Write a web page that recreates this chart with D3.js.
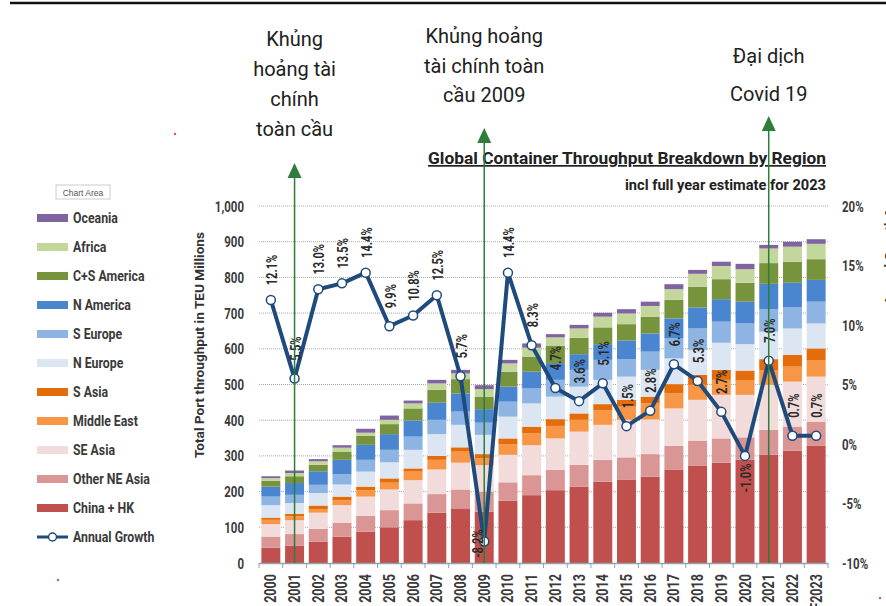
<!DOCTYPE html>
<html>
<head>
<meta charset="utf-8">
<script src="https://cdn.jsdelivr.net/npm/d3@7"></script>
<style>
body{margin:0;background:#fff;}
svg{display:block;}
.num{font-family:Roboto,'Liberation Sans',sans-serif;font-weight:bold;fill:#3a3a3a;}
.note{font-family:Roboto,'Noto Sans',sans-serif;fill:#212121;}
</style>
</head>
<body>
<div id="canvas"></div>
<script>
// data
let years = ['2000','2001','2002','2003','2004','2005','2006','2007','2008','2009','2010','2011',
	'2012','2013','2014','2015','2016','2017','2018','2019','2020','2021','2022','F2023'];

let regions = ['China + HK','Other NE Asia','SE Asia','Middle East','S Asia','N Europe',
	'S Europe','N America','C+S America','Africa','Oceania'];

let chinaHK     = [43,48,60,74,88,100,120,141,153,144,174,190,204,214,228,234,242,262,272,281,289,303,315,328],
otherNEAsia     = [31,33,36,39,44,48,47,52,53,56,52,56,57,61,61,62,63,66,71,68,63,70,67,68],
seAsia          = [35,39,45,49,54,58,65,69,75,74,77,84,88,93,98,105,97,105,114,122,119,126,126,126],
middleEast      = [12,11,10,14,18,19,24,27,31,19,30,33,35,33,40,37,45,42,42,42,40,40,42,45],
sAsia           = [6,7,10,10,10,12,9,11,12,12,16,19,19,18,18,19,19,26,28,28,28,32,33,34],
nEurope         = [35,30,35,34,42,45,52,61,63,54,61,65,63,75,68,65,75,72,70,76,74,77,74,70],
sEurope         = [24,23,23,29,33,35,37,40,37,34,42,42,47,47,56,49,51,56,60,59,58,63,59,61],
nAmerica        = [28,33,38,40,42,44,45,48,51,38,42,47,47,44,44,52,51,56,59,63,61,71,69,61],
csAmerica       = [16,19,18,23,25,28,34,36,40,35,42,42,49,46,47,46,47,52,58,56,53,58,59,58],
africa          = [8,9,10,11,9,12,14,18,16,21,23,25,23,26,30,30,30,30,36,37,38,41,42,43],
oceania         = [5,7,6,7,11,12,8,10,10,11,10,12,9,10,11,12,12,14,11,12,15,10,14,13];

let growth = [12.1,5.5,13.0,13.5,14.4,9.9,10.8,12.5,5.7,-8.2,14.4,8.3,4.7,3.6,5.1,1.5,2.8,6.7,5.3,2.7,-1.0,7.0,0.7,0.7];

let leftTicks = [0,100,200,300,400,500,600,700,800,900,1000],
rightTicks = [-10,-5,0,5,10,15,20];

let colors = ['#c0504d','#d99694','#f2dcdb','#f79646','#e46c0a','#dce6f2',
	'#8db4e2','#4a86d0','#77933c','#c3d69b','#8064a2'];

let notes = [
	{year:'2001', lines:['Khủng','hoảng tài','chính','toàn cầu']},
	{year:'2009', lines:['Khủng hoảng','tài chính toàn','cầu 2009']},
	{year:'2021', lines:['Đại dịch','Covid 19']}
];

let series = [chinaHK, otherNEAsia, seAsia, middleEast, sAsia, nEurope, sEurope, nAmerica, csAmerica, africa, oceania];

let W = 886, H = 606,
SX = 0.74, //squeeze for the condensed look of the numbers
canvas = d3.select('#canvas').append('svg').attr('width', W).attr('height', H);

canvas.append('rect').attr('width', W).attr('height', H).style('fill', '#fff');

let x = d3.scaleBand().domain(years).range([259, 828]).paddingInner(0.2).paddingOuter(0.1),
y = d3.scaleLinear().domain([0, 1000]).range([563, 206]),
y2 = d3.scaleLinear().domain([-10, 20]).range([563, 206]);

//top rule
canvas.append('line').attr('x1', 10).attr('x2', W).attr('y1', 3).attr('y2', 3)
.style('stroke', '#111').style('stroke-width', 2.5);

//gridlines
canvas.append('g').selectAll('line').data(leftTicks.slice(1)).enter().append('line')
.attr('x1', 259).attr('x2', 828)
.attr('y1', d=>y(d)).attr('y2', d=>y(d))
.style('stroke', '#a8a8a8').style('stroke-width', 1).style('stroke-dasharray', '1,1');

//stacked bars
let table = years.map((yr, i)=>{
	let row = {year:yr};
	regions.forEach((r, j)=>{ row[r] = series[j][i]; });
	return row;
});
let stacked = d3.stack().keys(regions)(table);

canvas.append('g').selectAll('g').data(stacked).enter().append('g')
.style('fill', (d, i)=>colors[i])
.selectAll('rect').data(d=>d).enter().append('rect')
.attr('x', d=>x(d.data.year))
.attr('y', d=>y(d[1]))
.attr('width', x.bandwidth())
.attr('height', d=>y(d[0]) - y(d[1]));

//x axis
canvas.append('line').attr('x1', 259).attr('x2', 828).attr('y1', 563.5).attr('y2', 563.5)
.style('stroke', '#8fa3a8').style('stroke-width', 1.5);
canvas.append('g').selectAll('line').data(years.concat(['end'])).enter().append('line')
.attr('x1', (d, i)=>259 + x.step()*i)
.attr('x2', (d, i)=>259 + x.step()*i)
.attr('y1', 563).attr('y2', 568)
.style('stroke', '#8fa3a8').style('stroke-width', 1);

canvas.append('g').selectAll('text').data(years).enter().append('text')
.attr('class', 'num')
.attr('transform', d=>'translate(' + (x(d) + x.bandwidth()/2 + 5.5) + ',574) rotate(-90) scale(' + SX + ',1)')
.attr('text-anchor', 'end')
.style('font-size', '17px')
.text(d=>d);

//left axis labels
canvas.append('g').selectAll('text').data(leftTicks).enter().append('text')
.attr('class', 'num')
.attr('transform', d=>'translate(244,' + (y(d) + 5.5) + ') scale(' + SX + ',1)')
.attr('text-anchor', 'end')
.style('font-size', '15.5px')
.text(d=>d3.format(',')(d));

//right axis labels
canvas.append('g').selectAll('text').data(rightTicks).enter().append('text')
.attr('class', 'num')
.attr('transform', d=>'translate(842,' + (y2(d) + 5.5) + ') scale(' + SX + ',1)')
.style('font-size', '15.5px')
.text(d=>d + '%');

//axis titles
canvas.append('text')
.attr('transform', 'translate(204,345) rotate(-90)')
.attr('text-anchor', 'middle')
.attr('textLength', 226).attr('lengthAdjust', 'spacingAndGlyphs')
.style('font-family', "Roboto,'Liberation Sans',sans-serif")
.style('font-weight', 'bold').style('font-size', '13px').style('fill', '#333')
.text('Total Port throughput in TEU Millions');

canvas.append('text')
.attr('transform', 'translate(894,206) rotate(-90)')
.attr('text-anchor', 'end')
.style('font-family', "Roboto,'Liberation Sans',sans-serif")
.style('font-weight', 'bold').style('font-size', '13px').style('fill', '#333')
.text('Annual Growth %');

//title
canvas.append('text').attr('class', 'num')
.attr('x', 428).attr('y', 164)
.attr('textLength', 398).attr('lengthAdjust', 'spacingAndGlyphs')
.style('font-size', '17px').style('fill', '#222')
.style('text-decoration', 'underline')
.text('Global Container Throughput Breakdown by Region');

canvas.append('text').attr('class', 'num')
.attr('x', 625).attr('y', 190)
.attr('textLength', 201).attr('lengthAdjust', 'spacingAndGlyphs')
.style('font-size', '14px').style('fill', '#222')
.text('incl full year estimate for 2023');

//growth line
let cx = (d, i)=>x(years[i]) + x.bandwidth()/2;
canvas.append('path').datum(growth)
.attr('d', d3.line().x(cx).y(d=>y2(d)))
.style('fill', 'none').style('stroke', '#1f4a7c').style('stroke-width', 4)
.style('stroke-linejoin', 'round');

canvas.append('g').selectAll('circle').data(growth).enter().append('circle')
.attr('cx', cx).attr('cy', d=>y2(d)).attr('r', 4.5)
.style('fill', '#fff').style('stroke', '#1f4a7c').style('stroke-width', 1.5);

//growth labels
canvas.append('g').selectAll('text').data(growth).enter().append('text')
.attr('class', 'num')
.attr('transform', (d, i)=>{
	let px = cx(d, i) + 1, py = y2(d) - 30;
	if(d < -5){ px = cx(d, i) - 6; py = y2(d) + 2; }
	else if(d < 0){ py = y2(d) + 22; }
	return 'translate(' + px + ',' + py + ') rotate(-90) scale(' + SX + ',1)';
})
.attr('text-anchor', 'middle')
.attr('dominant-baseline', 'central')
.style('font-size', '15px').style('fill', '#2a2a2a')
.text(d=>d.toFixed(1) + '%');

//legend
let legend = canvas.append('g').selectAll('g').data(regions.slice().reverse()).enter().append('g')
.attr('transform', (d, i)=>'translate(37,' + (218 + i * 29) + ')');
legend.append('rect')
.attr('x', 0).attr('y', -4).attr('width', 31).attr('height', 8)
.style('fill', (d, i)=>colors[regions.length - 1 - i]);
legend.append('text').attr('class', 'num')
.attr('transform', 'translate(36,5) scale(0.88,1)')
.style('font-size', '14px')
.text(d=>d);

let lg = canvas.append('g').attr('transform', 'translate(37,' + (218 + 11 * 29) + ')');
lg.append('line').attr('x1', 0).attr('x2', 31)
.style('stroke', '#1f4a7c').style('stroke-width', 3);
lg.append('circle').attr('cx', 15.5).attr('r', 4)
.style('fill', '#fff').style('stroke', '#1f4a7c').style('stroke-width', 1.5);
lg.append('text').attr('class', 'num')
.attr('transform', 'translate(36,5) scale(0.88,1)')
.style('font-size', '14px')
.text('Annual Growth');

//"Chart Area" tip
canvas.append('rect').attr('x', 56).attr('y', 185).attr('width', 54).attr('height', 14)
.style('fill', '#fff').style('stroke', '#ccc').style('stroke-width', 1);
canvas.append('text').attr('x', 83).attr('y', 195.5).attr('text-anchor', 'middle')
.style('font-family', "'Liberation Sans',sans-serif").style('font-size', '8.5px').style('fill', '#555')
.text('Chart Area');

//stray marks
[[175,134],[58,580],[880,598]].forEach(p=>{
	canvas.append('circle').attr('cx', p[0]).attr('cy', p[1]).attr('r', 1.2).style('fill', '#e05050');
});

//annotations with arrows
let noteLayout = [
	{base:46, step:30, tip:163},
	{base:43, step:29.5, tip:128},
	{base:63, step:38, tip:116}
];
notes.forEach((n, k)=>{
	let ax = x(n.year) + x.bandwidth()/2,
	lay = noteLayout[k];
	canvas.append('g').selectAll('text').data(n.lines).enter().append('text')
	.attr('class', 'note')
	.attr('x', ax).attr('y', (d, i)=>lay.base + i * lay.step)
	.attr('text-anchor', 'middle')
	.style('font-size', '20px')
	.text(d=>d);
	canvas.append('line')
	.attr('x1', ax).attr('x2', ax).attr('y1', lay.tip + 12).attr('y2', 563)
	.style('stroke', '#2e7d3a').style('stroke-width', 1.5);
	canvas.append('path')
	.attr('d', 'M' + ax + ',' + lay.tip + 'L' + (ax - 7) + ',' + (lay.tip + 15) + 'L' + (ax + 7) + ',' + (lay.tip + 15) + 'Z')
	.style('fill', '#2e7d3a');
});
</script>
</body>
</html>
